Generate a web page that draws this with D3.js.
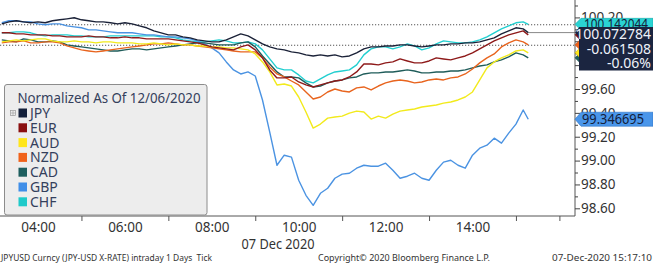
<!DOCTYPE html>
<html><head><meta charset="utf-8">
<script src="https://cdn.jsdelivr.net/npm/d3@7"></script>
<style>
body{margin:0;background:#fff}
svg{display:block}
text{font-family:"Noto Sans",sans-serif}
</style>
</head><body><svg id="c" width="653" height="265"></svg>
<script>
// ---------------- data ----------------
const times = [
"03:10","03:20","03:30","03:40","03:50",
"04:00","04:10","04:20","04:30","04:40","04:50",
"05:00","05:10","05:20","05:30","05:40","05:50",
"06:00","06:10","06:20","06:30","06:40","06:50",
"07:00","07:10","07:20","07:30","07:40","07:50",
"08:00","08:10","08:20","08:30","08:40","08:50",
"09:00","09:10","09:20","09:30","09:40","09:50",
"10:00","10:10","10:20","10:30","10:40","10:50",
"11:00","11:10","11:20","11:30","11:40","11:50",
"12:00","12:10","12:20","12:30","12:40","12:50",
"13:00","13:10","13:20","13:30","13:40","13:50",
"14:00","14:10","14:20","14:30","14:40","14:50",
"15:00","15:10","15:17"];

const JPY = [
100.146,100.163,100.172,100.163,100.155,100.163,100.155,100.172,100.180,100.188,
100.197,100.180,100.172,100.163,100.163,100.155,100.146,100.155,100.146,100.129,
100.113,100.087,100.071,100.054,100.054,100.037,100.029,100.012,100.003,99.995,
99.995,100.012,100.037,100.062,100.045,100.012,99.978,99.953,99.936,99.928,
99.911,99.903,99.886,99.877,99.886,99.877,99.886,99.869,99.877,99.903,
99.936,99.953,99.953,99.961,99.961,99.970,99.970,99.961,99.953,99.961,
99.970,99.970,99.978,99.978,99.987,99.987,99.995,100.012,100.029,100.062,
100.087,100.113,100.104,100.072784];

const EUR = [
100.071,100.071,100.062,100.062,100.054,100.054,100.054,100.045,100.045,100.037,
100.037,100.037,100.045,100.037,100.037,100.029,100.029,100.037,100.029,100.029,
100.020,100.020,100.020,100.020,100.012,100.003,99.995,99.987,99.970,99.953,
99.945,99.936,99.928,99.953,99.970,99.928,99.861,99.760,99.693,99.693,
99.701,99.659,99.634,99.617,99.634,99.651,99.667,99.676,99.701,99.743,
99.810,99.810,99.802,99.819,99.827,99.852,99.835,99.819,99.819,99.835,
99.861,99.852,99.844,99.861,99.877,99.903,99.936,99.970,100.003,100.029,
100.054,100.071,100.087,100.054];

const AUD = [
99.995,100.003,100.012,100.003,100.012,100.020,100.020,100.003,99.995,99.995,
100.003,99.995,99.995,99.987,99.995,99.995,99.987,99.987,99.987,99.978,
99.978,99.987,99.978,99.970,99.978,99.970,99.970,99.961,99.961,99.953,
99.953,99.945,99.945,99.936,99.928,99.894,99.827,99.743,99.634,99.642,
99.625,99.533,99.407,99.272,99.306,99.356,99.365,99.373,99.398,99.415,
99.407,99.348,99.373,99.356,99.390,99.415,99.424,99.432,99.449,99.457,
99.466,99.482,99.491,99.508,99.533,99.575,99.676,99.777,99.827,99.861,
99.886,99.919,99.928,99.903];

const NZD = [
99.987,99.995,99.995,100.003,99.987,99.987,99.995,99.995,99.987,99.961,
99.945,99.928,99.919,99.911,99.919,99.928,99.936,99.945,99.953,99.961,
99.970,99.978,99.978,99.987,99.978,99.970,99.970,99.961,99.953,99.945,
99.936,99.928,99.919,99.911,99.911,99.911,99.861,99.785,99.726,99.701,
99.667,99.634,99.575,99.516,99.533,99.575,99.600,99.583,99.575,99.609,
99.617,99.592,99.625,99.651,99.667,99.676,99.667,99.651,99.659,99.676,
99.684,99.676,99.693,99.701,99.726,99.768,99.819,99.861,99.894,99.953,
99.987,100.012,99.995,99.970];

const CAD = [
100.012,100.003,99.995,100.020,100.012,99.995,99.995,100.003,99.995,99.970,
99.961,99.953,99.945,99.936,99.928,99.919,99.919,99.928,99.936,99.936,
99.928,99.936,99.945,99.953,99.961,99.970,99.978,99.987,99.987,99.978,
99.970,99.970,99.970,99.987,99.995,99.953,99.877,99.810,99.743,99.701,
99.701,99.693,99.651,99.617,99.625,99.651,99.667,99.676,99.693,99.701,
99.726,99.735,99.735,99.743,99.743,99.751,99.760,99.751,99.735,99.735,
99.743,99.743,99.751,99.751,99.760,99.777,99.793,99.802,99.827,99.844,
99.869,99.903,99.886,99.861];

const GBP = [
100.155,100.172,100.172,100.163,100.163,100.146,100.138,100.146,100.146,100.129,
100.121,100.113,100.096,100.096,100.087,100.079,100.071,100.071,100.071,100.062,
100.054,100.054,100.045,100.037,100.037,100.029,100.020,100.003,99.978,99.945,
99.903,99.827,99.760,99.726,99.743,99.709,99.508,99.239,98.961,99.045,
99.029,98.835,98.709,98.625,98.726,98.768,98.852,98.886,98.894,98.936,
98.961,98.953,98.953,98.978,98.919,98.852,98.869,98.894,98.852,98.835,
98.919,98.987,99.003,98.961,98.936,99.045,99.104,99.129,99.188,99.146,
99.230,99.306,99.424,99.346695];

const CHF = [
100.071,100.071,100.079,100.079,100.071,100.054,100.045,100.054,100.054,100.054,
100.045,100.045,100.037,100.037,100.037,100.045,100.045,100.045,100.045,100.045,
100.045,100.045,100.037,100.037,100.029,100.012,100.003,99.995,99.995,100.003,
100.012,100.003,99.987,99.987,99.995,99.978,99.928,99.852,99.777,99.760,
99.760,99.718,99.667,99.651,99.684,99.718,99.743,99.751,99.760,99.802,
99.886,99.936,99.953,99.953,99.936,99.953,99.978,99.961,99.928,99.945,
99.978,100.003,99.995,99.987,99.987,99.995,100.012,100.037,100.071,100.104,
100.129,100.155,100.163,100.142044];

const seriesNames = ["JPY","EUR","AUD","NZD","CAD","GBP","CHF"];
const seriesValues = [JPY, EUR, AUD, NZD, CAD, GBP, CHF];
const yTickValues = [98.6, 98.8, 99.0, 99.2, 99.4, 99.6, 99.8, 100.0, 100.2];
const yCoveredTicks = [99.8, 100.0]; // labels fully hidden behind the JPY box in the original
const yMinorValues = [98.7, 98.9, 99.1, 99.3, 99.5, 99.7, 99.9, 100.1, 100.3];
const xTickLabels = ["04:00","06:00","08:00","10:00","12:00","14:00"];
const xMinorTicks = ["05:00","07:00","09:00","11:00","13:00","15:00","16:00"];
const refLines = [100.138, 99.967];
const jpyChange = -0.061508;
const jpyPctChange = -0.06;
const legendTitle = "Normalized As Of 12/06/2020";
const dateLabel = "07 Dec 2020";
const footLeft = "JPYUSD Curncy (JPY-USD X-RATE) intraday 1 Days  Tick";
const footMid = "Copyright\u00A9 2020 Bloomberg Finance L.P.";
const footRight = "07-Dec-2020 15:17:10";

// ---------------- styles ----------------
const colors = {JPY:"#1b2238", EUR:"#8e1a1a", AUD:"#f2ea1c", NZD:"#e8641e",
                CAD:"#1f5c5a", GBP:"#4b93e2", CHF:"#22cfd0"};
const legendColors = {JPY:"#14203a", EUR:"#8a0f0f", AUD:"#ffe61a", NZD:"#f0621a",
                CAD:"#1d5e5e", GBP:"#3f8ee8", CHF:"#1fcaca"};

// ---------------- drawing ----------------
const svg = d3.select("#c");
const W = 653, H = 265;
const plotR = 575, plotB = 216;
const parse = d3.timeParse("%H:%M");

const x = d3.scaleTime().domain([parse("04:00"), parse("14:00")]).range([38, 472.5]);
const y = d3.scaleLinear().domain([98.6, 99.6]).range([208.3, 89]);

svg.append("rect").attr("width", W).attr("height", H).attr("fill", "#fff");

svg.append("defs").append("clipPath").attr("id", "clip")
  .append("rect").attr("x", 0).attr("y", 0).attr("width", plotR).attr("height", plotB);

const plot = svg.append("g").attr("clip-path", "url(#clip)");

// reference dotted lines
refLines.forEach(v => {
  plot.append("line").attr("x1", 0).attr("x2", plotR)
    .attr("y1", y(v)).attr("y2", y(v))
    .attr("stroke", "#555").attr("stroke-width", 1.1).attr("stroke-dasharray", "1.2,1.8");
});

// last price line for JPY
plot.append("line")
  .attr("x1", x(parse(times[times.length - 1]))).attr("x2", plotR)
  .attr("y1", y(JPY[JPY.length - 1])).attr("y2", y(JPY[JPY.length - 1]))
  .attr("stroke", "#888").attr("stroke-width", 1);

const line = d3.line().x(d => x(d.t)).y(d => y(d.v)).curve(d3.curveLinear);

// draw in reverse so JPY is on top
for (let k = seriesNames.length - 1; k >= 0; k--) {
  const name = seriesNames[k];
  const data = times.map((t, i) => ({t: parse(t), v: seriesValues[k][i]}));
  plot.append("path").datum(data)
    .attr("d", line).attr("fill", "none")
    .attr("stroke", colors[name]).attr("stroke-width", 1.4)
    .attr("stroke-linejoin", "round");
}

// x axis line
svg.append("line").attr("x1", 0).attr("x2", plotR).attr("y1", plotB).attr("y2", plotB)
  .attr("stroke", "#555").attr("stroke-width", 1);
// y axis line
svg.append("line").attr("x1", plotR).attr("x2", plotR).attr("y1", 0).attr("y2", plotB)
  .attr("stroke", "#555").attr("stroke-width", 1);

// x axis labels
const xAxis = d3.axisBottom(x).tickValues(xTickLabels.map(parse)).tickSize(0).tickPadding(8)
  .tickFormat(d3.timeFormat("%H:%M"));
const gx = svg.append("g").attr("transform", `translate(0,${plotB})`).call(xAxis);
gx.select(".domain").remove();
gx.selectAll("text").attr("font-size", 13.5).attr("fill", "#333")
  .attr("font-family", "Noto Sans, sans-serif").attr("dy", "0.6em");

const xMinor = d3.axisBottom(x).tickValues(xMinorTicks.map(parse)).tickSize(5).tickFormat("");
const gxm = svg.append("g").attr("transform", `translate(0,${plotB})`).call(xMinor);
gxm.select(".domain").remove();
gxm.selectAll("line").attr("stroke", "#555");

svg.append("text").attr("x", 278).attr("y", 244).attr("dy", "0.35em")
  .attr("text-anchor", "middle").attr("font-size", 14).attr("fill", "#333")
  .attr("textLength", 73).attr("lengthAdjust", "spacingAndGlyphs")
  .text(dateLabel);

// y axis
const fmt2 = d3.format(".2f");
const yAxis = d3.axisRight(y).tickValues(yTickValues).tickSize(5).tickPadding(1)
  .tickFormat(d => yCoveredTicks.some(c => Math.abs(c - d) < 1e-9) ? "" : fmt2(d));
const gy = svg.append("g").attr("transform", `translate(${plotR},0)`).call(yAxis);
gy.select(".domain").remove();
gy.selectAll("line").attr("stroke", "#444");
gy.selectAll("text").attr("font-size", 13.5).attr("fill", "#333")
  .attr("font-family", "Noto Sans, sans-serif");

const yMinor = d3.axisRight(y).tickValues(yMinorValues).tickSize(3).tickFormat("");
const gym = svg.append("g").attr("transform", `translate(${plotR},0)`).call(yMinor);
gym.select(".domain").remove();
gym.selectAll("line").attr("stroke", "#444");

// right-side value tags
function tagPath(yc, h) {
  return `M${plotR},${yc} L${plotR + 6},${yc - h / 2} L${W},${yc - h / 2} L${W},${yc + h / 2} L${plotR + 6},${yc + h / 2} Z`;
}
const hiddenTags = ["CAD", "AUD", "NZD", "EUR"];
hiddenTags.forEach(n => {
  const vals = seriesValues[seriesNames.indexOf(n)];
  svg.append("path").attr("d", tagPath(y(vals[vals.length - 1]), 12))
    .attr("fill", legendColors[n]).attr("stroke", d3.color(legendColors[n]).darker(0.6)).attr("stroke-width", 0.6);
});

// CHF tag
const chfLast = CHF[CHF.length - 1];
const chfY = y(chfLast);
svg.append("path").attr("d", tagPath(chfY, 12)).attr("fill", "#2ad3d3")
  .attr("stroke", "#14a8a8").attr("stroke-width", 0.6);
svg.append("text").attr("x", 648).attr("y", chfY).attr("dy", "0.36em")
  .attr("text-anchor", "end").attr("font-size", 13.5).attr("fill", "#14203a")
  .attr("textLength", 64).attr("lengthAdjust", "spacingAndGlyphs")
  .text(chfLast.toFixed(6));

// JPY box
const jpyLast = JPY[JPY.length - 1];
const jy = y(jpyLast);
svg.append("path")
  .attr("d", `M${plotR},${jy} L${plotR + 4},${jy - 5} L${plotR + 4},27 L${W},27 L${W},70.5 L${plotR + 4},70.5 L${plotR + 4},${jy + 5} Z`)
  .attr("fill", "#1b2540");
const jpyLines = [jpyLast.toFixed(6), jpyChange.toFixed(6), jpyPctChange.toFixed(2) + "%"];
const jpyLineY = [34, 48.5, 62.5];
jpyLines.forEach((s, i) => {
  svg.append("text").attr("x", 651).attr("y", jpyLineY[i]).attr("dy", "0.36em")
    .attr("text-anchor", "end").attr("font-size", 14).attr("fill", "#eef2fa")
    .text(s);
});

// GBP tag
const gbpLast = GBP[GBP.length - 1];
const gY = y(gbpLast);
svg.append("path").attr("d", tagPath(gY, 14)).attr("fill", "#4a96ea")
  .attr("stroke", "#2f74c4").attr("stroke-width", 0.6);
svg.append("text").attr("x", 644).attr("y", gY).attr("dy", "0.36em")
  .attr("text-anchor", "end").attr("font-size", 13.5).attr("fill", "#14203a")
  .attr("textLength", 62).attr("lengthAdjust", "spacingAndGlyphs")
  .text(gbpLast.toFixed(6));

// legend
const lg = svg.append("g");
lg.append("rect").attr("x", 4.5).attr("y", 84.5).attr("width", 202.5).attr("height", 130.5)
  .attr("rx", 2.5).attr("fill", "#ededed").attr("stroke", "#8c8c8c").attr("stroke-width", 1);
lg.append("text").attr("x", 17.5).attr("y", 98).attr("dy", "0.36em")
  .attr("font-size", 14).attr("fill", "#34405c")
  .attr("textLength", 183).attr("lengthAdjust", "spacingAndGlyphs")
  .text(legendTitle);
// tiny expand icon
lg.append("rect").attr("x", 10.5).attr("y", 110.5).attr("width", 5).attr("height", 5)
  .attr("fill", "none").attr("stroke", "#999").attr("stroke-width", 0.7);
lg.append("path").attr("d", "M11,113 H15.5 M13,111 V115.5").attr("stroke", "#999").attr("stroke-width", 0.6);
seriesNames.forEach((n, i) => {
  const yc = 113 + i * 14.8;
  lg.append("rect").attr("x", 18.5).attr("y", yc - 4.5).attr("width", 8.5).attr("height", 9)
    .attr("fill", legendColors[n]);
  lg.append("text").attr("x", 30).attr("y", yc).attr("dy", "0.36em")
    .attr("font-size", 14).attr("fill", "#34405c").text(n);
});

// footer
svg.append("text").attr("x", 1).attr("y", 258).attr("dy", "0.35em")
  .attr("font-size", 9.5).attr("fill", "#333")
  .attr("textLength", 211).attr("lengthAdjust", "spacingAndGlyphs")
  .attr("xml:space", "preserve").text(footLeft);
svg.append("text").attr("x", 318).attr("y", 258).attr("dy", "0.35em")
  .attr("font-size", 9.5).attr("fill", "#333")
  .attr("textLength", 172).attr("lengthAdjust", "spacingAndGlyphs")
  .text(footMid);
svg.append("text").attr("x", 552).attr("y", 258).attr("dy", "0.35em")
  .attr("font-size", 9.5).attr("fill", "#333")
  .attr("textLength", 100).attr("lengthAdjust", "spacingAndGlyphs")
  .text(footRight);
</script>
</body></html>
